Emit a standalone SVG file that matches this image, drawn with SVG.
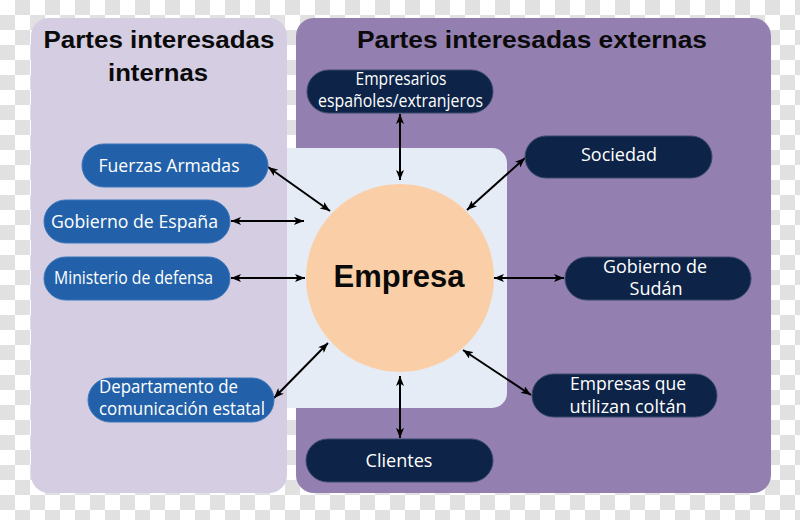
<svg xmlns="http://www.w3.org/2000/svg" width="800" height="520" viewBox="0 0 800 520">
  <defs>
    <pattern id="checker" width="30" height="30" patternUnits="userSpaceOnUse">
      <rect width="30" height="30" fill="#ffffff"/>
      <rect x="15" y="0" width="15" height="15" fill="#e1e1e1"/>
      <rect x="0" y="15" width="15" height="15" fill="#e1e1e1"/>
    </pattern>
    <marker id="ah" viewBox="0 0 10 8" refX="10" refY="4" markerWidth="10" markerHeight="8" markerUnits="userSpaceOnUse" orient="auto-start-reverse">
      <path d="M0,0 L10,4 L0,8 L2.5,4 z" fill="#000"/>
    </marker>
    <style>
      .title { font-family: "Liberation Sans", Arial, sans-serif; font-weight: bold; font-size: 23px; fill: #0a0a0a; text-anchor: middle; }
      .center { font-family: "Liberation Sans", Arial, sans-serif; font-weight: bold; font-size: 31px; fill: #0a0a0a; text-anchor: middle; }
      .lbl { font-family: "Open Sans", "Noto Sans", sans-serif; font-size: 18px; fill: #ffffff; text-anchor: middle; }
      .lbl-l { font-family: "Open Sans", "Noto Sans", sans-serif; font-size: 18px; fill: #ffffff; text-anchor: start; }
      .blue { fill: #2261a9; stroke: #3b76ba; stroke-width: 1; }
      .dark { fill: #0d2347; stroke: #3a4b6c; stroke-width: 1; }
      .conn line { stroke: #000; stroke-width: 2; marker-start: url(#ah); marker-end: url(#ah); }
    </style>
  </defs>

  <rect x="0" y="0" width="800" height="520" fill="url(#checker)"/>

  <g id="panel-internas">
    <rect x="31" y="18" width="256" height="475" rx="18" fill="#d5cde2"/>
    <text class="title" x="159" y="48" textLength="231" lengthAdjust="spacingAndGlyphs">Partes interesadas</text>
    <text class="title" x="158" y="81" textLength="100" lengthAdjust="spacingAndGlyphs">internas</text>
  </g>

  <g id="panel-externas">
    <rect x="296" y="18" width="475" height="475" rx="18" fill="#947fb1"/>
    <text class="title" x="532" y="48" textLength="350" lengthAdjust="spacingAndGlyphs">Partes interesadas externas</text>
  </g>

  <g id="center-box">
    <path d="M287,148 H492 A15,15 0 0 1 507,163 V393 A15,15 0 0 1 492,408 H287 Z" fill="#e6ecf6"/>
  </g>

  <g id="empresa">
    <circle cx="400" cy="278" r="94" fill="#facfa7"/>
    <text class="center" x="399" y="287">Empresa</text>
  </g>

  <g class="conn" id="connectors">
    <line x1="268" y1="167" x2="330" y2="211"/>
    <line x1="231" y1="221" x2="304" y2="221"/>
    <line x1="231" y1="278" x2="305" y2="278"/>
    <line x1="274" y1="398" x2="328" y2="343"/>
    <line x1="400" y1="114" x2="400" y2="180"/>
    <line x1="525" y1="158" x2="467" y2="210"/>
    <line x1="494" y1="278" x2="564" y2="278"/>
    <line x1="463" y1="350" x2="531" y2="395"/>
    <line x1="400" y1="376" x2="400" y2="438"/>
  </g>

  <g id="fuerzas-armadas">
    <rect class="blue" x="82" y="144" width="186" height="43" rx="21.5"/>
    <text class="lbl" x="169" y="171.5" textLength="141" lengthAdjust="spacingAndGlyphs">Fuerzas Armadas</text>
  </g>

  <g id="gobierno-espana">
    <rect class="blue" x="44" y="200" width="186" height="43" rx="21.5"/>
    <text class="lbl" x="134.5" y="227.5" textLength="167" lengthAdjust="spacingAndGlyphs">Gobierno de España</text>
  </g>

  <g id="ministerio-defensa">
    <rect class="blue" x="44" y="257" width="186" height="43" rx="21.5"/>
    <text class="lbl" x="133.5" y="284" textLength="159" lengthAdjust="spacingAndGlyphs">Ministerio de defensa</text>
  </g>

  <g id="departamento">
    <rect class="blue" x="88" y="378" width="186" height="44" rx="22"/>
    <text class="lbl-l" x="99" y="393" textLength="139" lengthAdjust="spacingAndGlyphs">Departamento de</text>
    <text class="lbl-l" x="99" y="415" textLength="166" lengthAdjust="spacingAndGlyphs">comunicación estatal</text>
  </g>

  <g id="empresarios">
    <rect class="dark" x="307" y="70" width="186" height="43" rx="21.5"/>
    <text class="lbl" x="401" y="84.5" textLength="91" lengthAdjust="spacingAndGlyphs">Empresarios</text>
    <text class="lbl" x="400.5" y="106.5" textLength="165" lengthAdjust="spacingAndGlyphs">españoles/extranjeros</text>
  </g>

  <g id="sociedad">
    <rect class="dark" x="525" y="136" width="187" height="42" rx="21"/>
    <text class="lbl" x="619" y="160.5" textLength="76" lengthAdjust="spacingAndGlyphs">Sociedad</text>
  </g>

  <g id="gobierno-sudan">
    <rect class="dark" x="565" y="257" width="186" height="43" rx="21.5"/>
    <text class="lbl" x="655" y="273" textLength="104" lengthAdjust="spacingAndGlyphs">Gobierno de</text>
    <text class="lbl" x="656" y="295" textLength="53" lengthAdjust="spacingAndGlyphs">Sudán</text>
  </g>

  <g id="empresas-coltan">
    <rect class="dark" x="532" y="374" width="185" height="43" rx="21.5"/>
    <text class="lbl" x="628" y="389.5" textLength="116" lengthAdjust="spacingAndGlyphs">Empresas que</text>
    <text class="lbl" x="628" y="413" textLength="117" lengthAdjust="spacingAndGlyphs">utilizan coltán</text>
  </g>

  <g id="clientes">
    <rect class="dark" x="306" y="439" width="187" height="43" rx="21.5"/>
    <text class="lbl" x="399" y="467" textLength="67" lengthAdjust="spacingAndGlyphs">Clientes</text>
  </g>
</svg>
